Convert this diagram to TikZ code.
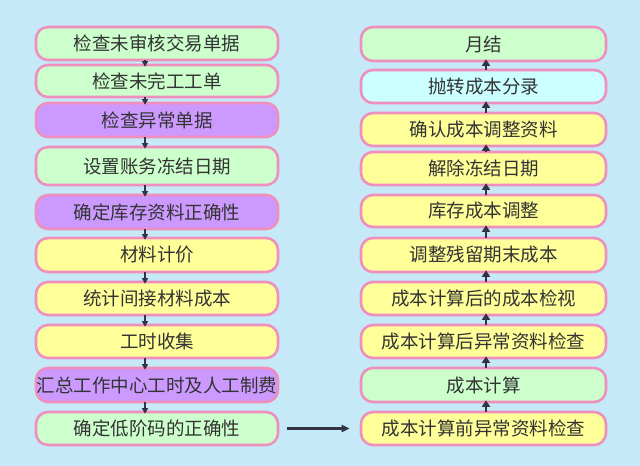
\documentclass[tikz,border=0pt]{standalone}
\usepackage{fontspec}
\newfontfamily\cjk{Noto Sans CJK SC}
\usetikzlibrary{arrows.meta}
\definecolor{bgc}{HTML}{C6E9F7}
\definecolor{gc}{HTML}{CCFFCC}
\definecolor{pc}{HTML}{CC99FF}
\definecolor{yc}{HTML}{FFFF99}
\definecolor{cc}{HTML}{CCFFFF}
\definecolor{bc}{HTML}{EE8FBE}
\definecolor{tc}{HTML}{333333}
\definecolor{ac}{HTML}{333344}
\tikzset{
  box/.style={draw=bc, line width=2.6bp, rounded corners=12bp, inner sep=0pt, anchor=center, font=\cjk\fontsize{18.5bp}{20bp}\selectfont, text=tc},
  lbox/.style={box, minimum width=242bp},
  rbox/.style={box, minimum width=245bp},
  arr/.style={draw=ac, line width=1.5bp, shorten >=-3bp, shorten <=-1bp, -{Triangle[length=5.5bp,width=6bp]}},
  rarr/.style={draw=ac, line width=2bp, shorten >=-3bp, shorten <=-1bp, -{Triangle[length=6.5bp,width=8bp]}},
  harr/.style={draw=ac, line width=2.2bp, -{Triangle[length=8bp,width=7bp]}}
}
\begin{document}
\begin{tikzpicture}[x=1bp,y=-1bp]
\fill[bgc] (0,0) rectangle (640,466);
\useasboundingbox (0,0) rectangle (640,466);
% left column
\node[lbox, fill=gc, minimum height=33bp] (l1) at (157,43.5) {检查未审核交易单据};
\node[lbox, fill=gc, minimum height=32bp] (l2) at (157,81) {检查未完工工单};
\node[lbox, fill=pc, minimum height=34bp] (l3) at (157,120) {检查异常单据};
\node[lbox, fill=gc, minimum height=38bp] (l4) at (157,166) {设置账务冻结日期};
\node[lbox, fill=pc, minimum height=34bp] (l5) at (157,212) {确定库存资料正确性};
\node[lbox, fill=yc, minimum height=34bp] (l6) at (157,255) {材料计价};
\node[lbox, fill=yc, minimum height=33bp] (l7) at (157,298.5) {统计间接材料成本};
\node[lbox, fill=yc, minimum height=33bp] (l8) at (157,341.5) {工时收集};
\node[lbox, fill=pc, minimum height=34bp] (l9) at (157,385) {汇总工作中心工时及人工制费};
\node[lbox, fill=gc, minimum height=33bp] (l10) at (157,428.5) {确定低阶码的正确性};
% right column
\node[rbox, fill=gc, minimum height=34bp] (r1) at (483.5,44) {月结};
\node[rbox, fill=cc, minimum height=33bp] (r2) at (483.5,86.5) {抛转成本分录};
\node[rbox, fill=yc, minimum height=33bp] (r3) at (483.5,129.5) {确认成本调整资料};
\node[rbox, fill=yc, minimum height=33bp] (r4) at (483.5,168.5) {解除冻结日期};
\node[rbox, fill=yc, minimum height=32bp] (r5) at (483.5,211) {库存成本调整};
\node[rbox, fill=yc, minimum height=34bp] (r6) at (483.5,255) {调整残留期末成本};
\node[rbox, fill=yc, minimum height=33bp] (r7) at (483.5,298.5) {成本计算后的成本检视};
\node[rbox, fill=yc, minimum height=33bp] (r8) at (483.5,341.5) {成本计算后异常资料检查};
\node[rbox, fill=gc, minimum height=34bp] (r9) at (483.5,385) {成本计算};
\node[rbox, fill=yc, minimum height=33bp] (r10) at (483.5,428.5) {成本计算前异常资料检查};
% left arrows (down)
\foreach \a/\b in {l1/l2,l2/l3,l3/l4,l4/l5,l5/l6,l6/l7,l7/l8,l8/l9,l9/l10}
  \draw[arr] (\a.south -| 145,0) -- (\b.north -| 145,0);
% right arrows (up)
\foreach \a/\b in {r10/r9,r9/r8,r8/r7,r7/r6,r6/r5,r5/r4,r4/r3,r3/r2,r2/r1}
  \draw[rarr] (\a.north -| 486,0) -- (\b.south -| 486,0);
% horizontal
\draw[harr] ([xshift=8bp]l10.east) -- ([xshift=-10bp]r10.west);
\end{tikzpicture}
\end{document}
